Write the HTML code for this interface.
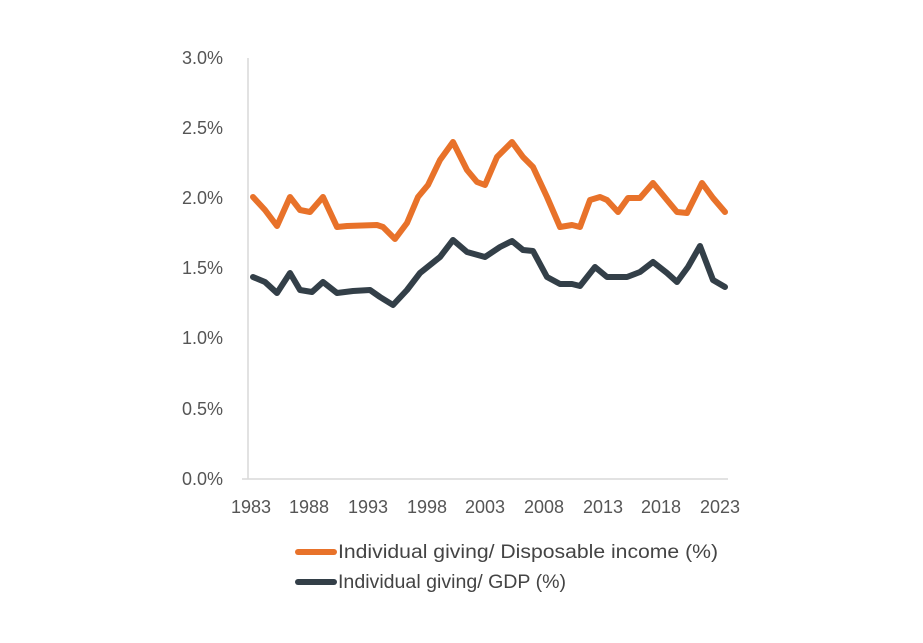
<!DOCTYPE html>
<html><head><meta charset="utf-8"><style>
body{margin:0;background:#fff;}
svg{display:block;font-family:"Liberation Sans",sans-serif;}
</style></head><body>
<svg width="923" height="643" viewBox="0 0 923 643">
<g stroke="#d9d9d9" stroke-width="1.5" fill="none">
<line x1="248" y1="58" x2="248" y2="479"/>
<line x1="242" y1="479" x2="728" y2="479"/>
</g>
<g font-size="18" fill="#555" text-anchor="end">
<text x="223" y="64">3.0%</text>
<text x="223" y="134">2.5%</text>
<text x="223" y="204">2.0%</text>
<text x="223" y="274">1.5%</text>
<text x="223" y="344">1.0%</text>
<text x="223" y="415">0.5%</text>
<text x="223" y="485">0.0%</text>
</g>
<g font-size="18" fill="#555" text-anchor="middle">
<text x="251" y="513">1983</text>
<text x="309" y="513">1988</text>
<text x="368" y="513">1993</text>
<text x="427" y="513">1998</text>
<text x="485" y="513">2003</text>
<text x="544" y="513">2008</text>
<text x="603" y="513">2013</text>
<text x="661" y="513">2018</text>
<text x="720" y="513">2023</text>
</g>
<polyline fill="none" stroke="#E8722A" stroke-width="6" stroke-linejoin="round" stroke-linecap="round" points="253,197 265,210 277,226 290,197 300,210 310,212 323,197 337,227 347,226 377,225 383,227 395,239 407,223 418,197 428,185 440,160 453,142 467,170 477,182 485,185 497,157 512,142 523,157 533,167 547,197 560,227 572,225 580,227 590,200 600,197 607,200 618,212 628,198 640,198 653,183 667,200 677,212 687,213 702,183 713,198 725,212"/>
<polyline fill="none" stroke="#333F48" stroke-width="6" stroke-linejoin="round" stroke-linecap="round" points="253,277 265,282 277,293 290,273 300,290 312,292 323,282 337,293 353,291 370,290 380,297 393,305 407,290 420,273 440,257 453,240 467,252 485,257 500,247 512,241 523,250 533,251 547,277 560,284 572,284 580,286 595,267 607,277 627,277 640,272 653,262 667,273 677,282 688,267 700,246 713,280 725,287"/>
<line x1="298" y1="552" x2="334" y2="552" stroke="#E8722A" stroke-width="6" stroke-linecap="round"/>
<line x1="298" y1="582" x2="334" y2="582" stroke="#333F48" stroke-width="6" stroke-linecap="round"/>
<g font-size="19" fill="#444">
<text x="338" y="558" textLength="380" lengthAdjust="spacingAndGlyphs">Individual giving/ Disposable income (%)</text>
<text x="338" y="588" textLength="228" lengthAdjust="spacingAndGlyphs">Individual giving/ GDP (%)</text>
</g>
</svg>
</body></html>
